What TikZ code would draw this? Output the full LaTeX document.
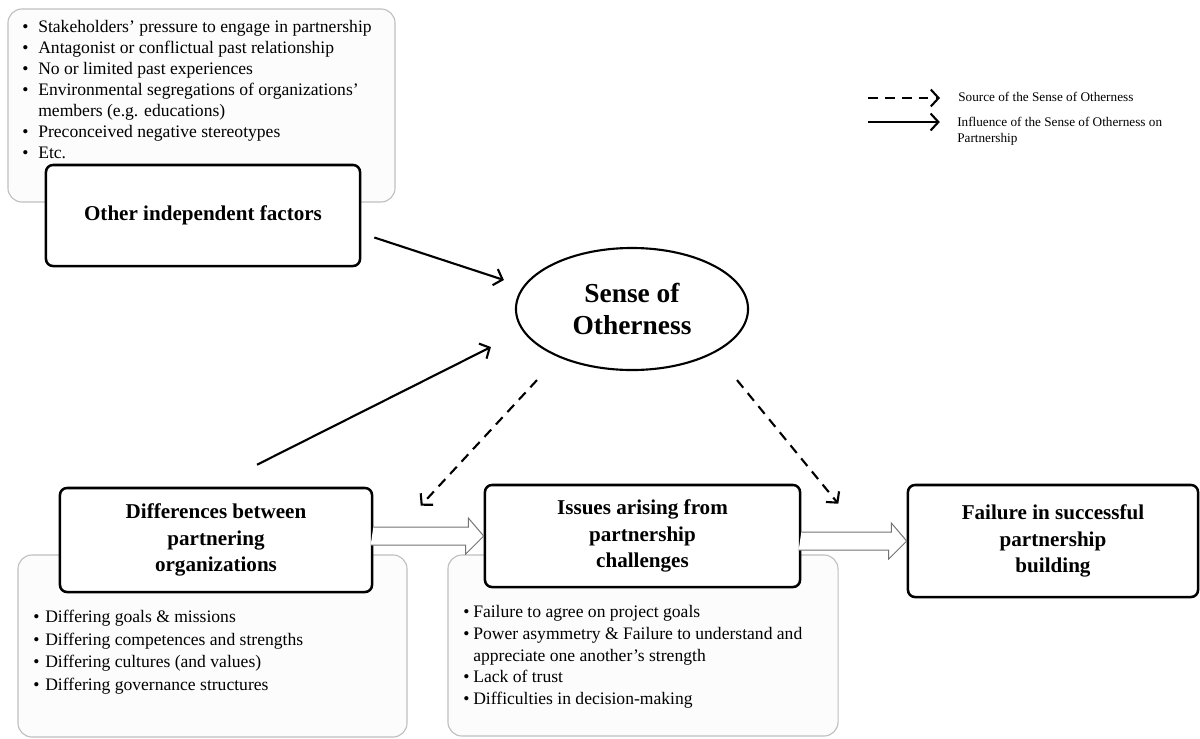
\documentclass[tikz,border=0pt]{standalone}
\usepackage{fontspec}
\setmainfont{Liberation Serif}
\usetikzlibrary{shapes.geometric,arrows.meta,calc}
\newcommand{\itm}[1][0.4cm]{\makebox[#1][l]{\textbullet}}

\begin{document}
\begin{tikzpicture}[x=0.025cm, y=-0.025cm,
    box/.style={draw, line width=1.8pt, rounded corners=5pt, fill=white, align=center, inner sep=2pt, font=\bfseries\fontsize{15}{19}\selectfont},
    note/.style={draw=black!25, line width=0.8pt, rounded corners=10pt, fill=black!1},
    lst/.style={anchor=north west, inner sep=0pt, align=left, font=\fontsize{12.5}{16}\selectfont},
    oval/.style={ellipse, draw, line width=1.5pt, fill=white, inner sep=0pt, align=center, font=\bfseries\fontsize{19.5}{22.5}\selectfont},
    infl/.style={->, line width=1.5pt},
    src/.style={->, line width=1.5pt, dash pattern=on 7pt off 5pt},
    hollow/.style={draw=black!55, line width=0.7pt, fill=white},
    lgd/.style={anchor=west, inner sep=0pt, align=left, font=\fontsize{9.4}{11.4}\selectfont},
    >={Straight Barb[length=5.5pt, width=12pt]}]
    \useasboundingbox (0,0) rectangle (1200,738);

    % sources on top
    \node[note, minimum width=9.675cm, minimum height=4.825cm] (factg) at (201.5,105.5) {};
    \node[lst, font=\fontsize{12.5}{14.9}\selectfont] (factl) at (22,20) {\itm Stakeholders’ pressure to engage in partnership\\
        \itm Antagonist or conflictual past relationship\\
        \itm No or limited past experiences\\
        \itm Environmental segregations of organizations’\\
        \hspace*{0.4cm}members (e.g. educations)\\
        \itm Preconceived negative stereotypes\\
        \itm Etc.};
    \node[box, minimum width=7.85cm, minimum height=2.525cm] (other) at (203,215.5) {Other independent factors};

    \node[oval, minimum width=5.8cm, minimum height=3.05cm] (sense) at (632,309) {Sense of\\Otherness};

    % lower row
    \node[note, minimum width=9.725cm, minimum height=4.55cm] (diffg) at (212.5,646) {};
    \node[note, minimum width=9.75cm, minimum height=4.525cm] (issg) at (643,645.5) {};
    \node[lst] (diffl) at (33,610) {\itm[0.3cm]Differing goals \& missions\\
        \itm[0.3cm]Differing competences and strengths\\
        \itm[0.3cm]Differing cultures (and values)\\
        \itm[0.3cm]Differing governance structures};
    \node[lst, font=\fontsize{12.5}{15.5}\selectfont] (issl) at (463,605) {\itm[0.25cm]Failure to agree on project goals\\
        \itm[0.25cm]Power asymmetry \& Failure to understand and\\
        \hspace*{0.25cm}appreciate one another’s strength\\
        \itm[0.25cm]Lack of trust\\
        \itm[0.25cm]Difficulties in decision-making};

    \node[box, minimum width=7.8cm, minimum height=2.6cm] (diff) at (216,540) {Differences between\\partnering\\organizations};
    \node[box, minimum width=7.875cm, minimum height=2.55cm] (issues) at (642.5,536) {Issues arising from\\partnership\\challenges};
    \node[box, minimum width=7.25cm, minimum height=2.8cm] (fail) at (1053,541) {Failure in successful\\partnership\\building};

    % hollow arrows
    \draw[hollow] (diff.east |- issues.west) ++(0,-9) -- ++(95,0) -- ++(0,-9) -- (issues.west) -- ++(-18,18) -- ++(0,-9) -- ++(-95,0);
    \draw[hollow] (issues.east |- fail.west) ++(0,-9) -- ++(90,0) -- ++(0,-9) -- (fail.west) -- ++(-18,18) -- ++(0,-9) -- ++(-90,0);

    \draw[infl] ($(other.east)+(13,22)$) -- ($(sense.west)+(-11,-29)$);
    \draw[infl] ($(diff.north)+(41,-22)$) -- ($(sense.west)+(-24,38)$);
    \draw[src] ($(sense.south)+(-95,9)$) -- ($(issues.north west)+(-63,22)$);
    \draw[src] ($(sense.south)+(105,9)$) -- ($(issues.north east)+(37,20)$);

    % legend
    \coordinate (srcA) at (868,98);
    \coordinate (inflA) at (868,122);
    \node[lgd] (srcl) at (958,97) {Source of the Sense of Otherness};
    \node[lgd] (infll) at (957,131) {Influence of the Sense of Otherness on\\Partnership};
    \draw[src, shorten >=0.45cm] (srcA) -- (srcA -| srcl.west);
    \draw[infl, shorten >=0.43cm] (inflA) -- (inflA -| infll.west);
\end{tikzpicture}
\end{document}
